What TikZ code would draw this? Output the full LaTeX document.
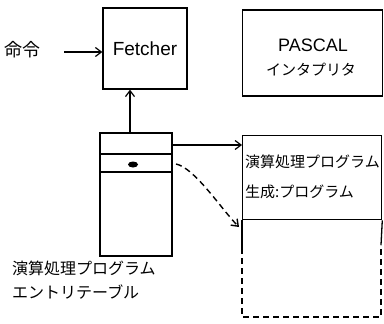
\documentclass[tikz,border=0pt]{standalone}
\usepackage{fontspec}
\setmainfont{Liberation Sans}
\newfontfamily\jp{Noto Sans CJK JP}
\usetikzlibrary{arrows.meta}
\begin{document}
\begin{tikzpicture}[x=1pt,y=-1pt,
  box/.style={draw,line width=1.3pt},
  conn/.style={line width=1.2pt,-{Straight Barb[length=6pt,width=9pt]}},
  lbl/.style={inner sep=0pt,anchor=west,font=\jp\fontsize{16}{18}\selectfont}]
\useasboundingbox[fill=white] (0,0) rectangle (384,324);
% Fetcher
\node[box,minimum width=84pt,minimum height=81pt,font=\fontsize{19}{21}\selectfont] (fetch) at (145,48.5) {Fetcher};
\node[inner sep=0pt,font=\jp\fontsize{18}{20}\selectfont] (cmd) at (23,50) {命令};
\coordinate (c0) at (64,52);
\draw[conn] (c0) -- (fetch.west|-c0);
% PASCAL
\node[box,minimum width=140pt,minimum height=86pt] (pascal) at (312.5,53) {};
\node[inner sep=0pt,font=\fontsize{18}{20}\selectfont] (pas) at (313,45) {PASCAL};
\node[inner sep=0pt,font=\jp\fontsize{15}{17}\selectfont] (interp) at (311,70) {インタプリタ};
% entry table
\node[box,minimum width=72pt,minimum height=123pt] (tab) at (136,194.5) {};
\draw[line width=1.3pt] (tab.west|-0,154) -- (tab.east|-0,154);
\draw[line width=1.3pt] (tab.west|-0,172) -- (tab.east|-0,172);
\fill (133,164.5) ellipse (5pt and 3pt);
\draw[conn] (tab.north-|130,0) -- (fetch.south-|130,0);
\node[lbl] (lab1) at (12,268) {演算処理プログラム};
\node[lbl] (lab2) at (12,292) {エントリテーブル};
% right box
\node[box,minimum width=139pt,minimum height=84pt,anchor=north west] (gen) at (242,135) {};
\node[lbl,font=\jp\fontsize{15}{17}\selectfont] (g1) at (245,162) {演算処理プログラム};
\node[lbl,font=\jp\fontsize{15}{17}\selectfont] (g2) at (245,192) {生成:プログラム};
\coordinate (bl) at (242,317);
\coordinate (br) at (381,317);
\draw[line width=1.3pt] (gen.south west) -- (242,248);
\draw[line width=1.3pt] (gen.south east) -- (381,245);
\draw[line width=1.3pt,dash pattern=on 6pt off 4pt] (242,248) -- (bl) -- (br) -- (381,245);
% connectors
\draw[conn] (tab.east|-0,145) -- (gen.west|-0,145);
\coordinate (d0) at (176,164);
\coordinate (d1) at (239,227);
\draw[conn,line width=1.4pt,dash pattern=on 6pt off 4pt] (d0) .. controls (195,168) and (222,210) .. (d1);
\end{tikzpicture}
\end{document}
